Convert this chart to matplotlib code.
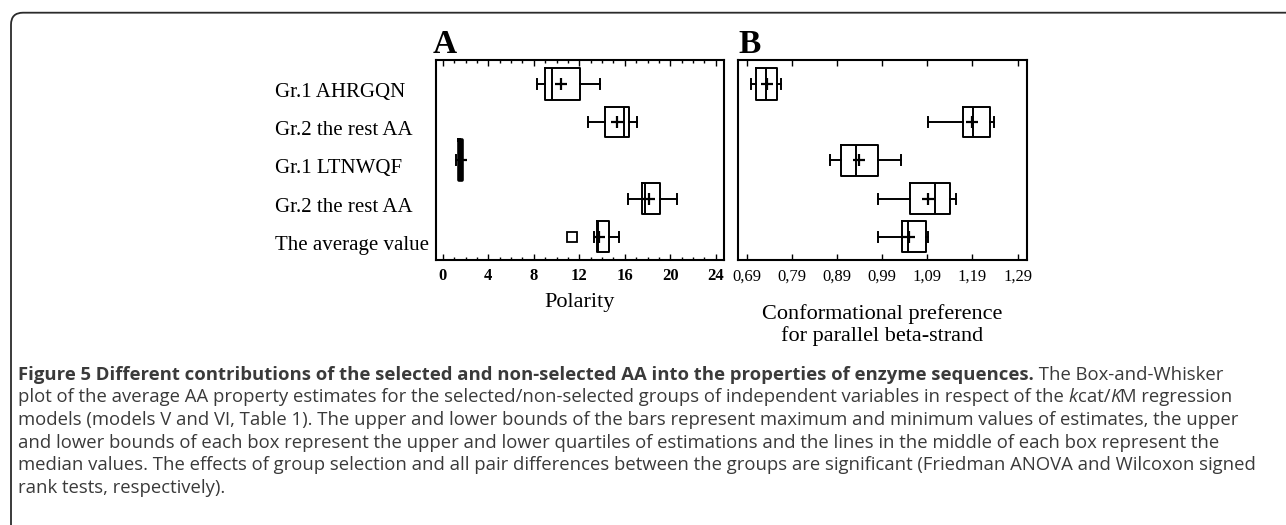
import numpy as np
import matplotlib.pyplot as plt
from matplotlib.patches import FancyBboxPatch
from matplotlib.transforms import ScaledTranslation
from matplotlib.ticker import MultipleLocator

# ── Datos ─────────────────────────────────────────────────────────────────────
groups = ['Gr.1 AHRGQN', 'Gr.2 the rest AA', 'Gr.1 LTNWQF',
          'Gr.2 the rest AA', 'The average value']

# Panel A: Polarity
pol_whislo = [8.3, 12.75, 1.18, 16.3, 13.3]
pol_q1     = [9.0, 14.25, 1.45, 17.5, 13.55]
pol_med    = [9.6, 15.95, 1.60, 17.75, 13.6]
pol_q3     = [12.1, 16.4, 1.72, 19.1, 14.65]
pol_whishi = [13.8, 17.05, 1.72, 20.55, 15.45]
pol_mean   = [10.4, 15.35, 1.60, 18.1, 13.7]
pol_fliers = [[], [], [], [], [11.4]]

# Panel B: conformational preference for parallel beta-strand
conf_whislo = [0.698, 1.091, 0.875, 0.981, 0.981]
conf_q1     = [0.709, 1.169, 0.898, 1.052, 1.034]
conf_med    = [0.733, 1.191, 0.932, 1.108, 1.046]
conf_q3     = [0.757, 1.229, 0.981, 1.140, 1.087]
conf_whishi = [0.765, 1.237, 1.032, 1.153, 1.091]
conf_mean   = [0.735, 1.190, 0.938, 1.091, 1.049]

pol_ticks = [0, 4, 8, 12, 16, 20, 24]
pol_ticklabels = ['0', '4', '8', '12', '16', '20', '24']
conf_ticks = [0.69, 0.79, 0.89, 0.99, 1.09, 1.19, 1.29]
conf_ticklabels = ['0,69', '0,79', '0,89', '0,99', '1,09', '1,19', '1,29']

caption = [
    [('Figure 5 Different contributions of the selected and non-selected AA '
      'into the properties of enzyme sequences.', 'bold', 'normal'),
     (' The Box-and-Whisker', 'normal', 'normal')],
    [('plot of the average AA property estimates for the selected/non-selected '
      'groups of independent variables in respect of the ', 'normal', 'normal'),
     ('k', 'normal', 'italic'), ('cat/', 'normal', 'normal'),
     ('K', 'normal', 'italic'), ('M regression', 'normal', 'normal')],
    [('models (models V and VI, Table 1). The upper and lower bounds of the bars '
      'represent maximum and minimum values of estimates, the upper', 'normal', 'normal')],
    [('and lower bounds of each box represent the upper and lower quartiles of '
      'estimations and the lines in the middle of each box represent the', 'normal', 'normal')],
    [('median values. The effects of group selection and all pair differences '
      'between the groups are significant (Friedman ANOVA and Wilcoxon signed', 'normal', 'normal')],
    [('rank tests, respectively).', 'normal', 'normal')],
]

W, H = 1286, 525
SERIF = 'Liberation Serif'
fig = plt.figure(figsize=(W / 100, H / 100), dpi=100)

# marco redondeado (solo se ve la esquina superior izquierda)
frame = FancyBboxPatch((0.11, -1.0), 15.0, 5.123 + 1.0,
                       boxstyle='round,pad=0,rounding_size=0.12',
                       transform=fig.dpi_scale_trans, fill=False,
                       edgecolor='#2b2b2b', linewidth=1.3)
fig.add_artist(frame)


def make_stats(lo, q1, med, q3, hi, mean, fliers=None):
    out = []
    for i in range(len(lo)):
        out.append(dict(whislo=lo[i], q1=q1[i], med=med[i], q3=q3[i],
                        whishi=hi[i], mean=mean[i],
                        fliers=(fliers[i] if fliers else [])))
    return out


def px_axes(left, right, top, bottom):
    return fig.add_axes([left / W, 1 - bottom / H, (right - left) / W, (bottom - top) / H])


line = dict(color='black', linewidth=1.4)
positions = np.arange(1, len(groups) + 1)


def draw_panel(ax, stats, widths):
    res = ax.bxp(stats, positions=positions, widths=widths, capwidths=0.26,
                 orientation='horizontal', showmeans=True,
                 boxprops=line, whiskerprops=line, capprops=line,
                 medianprops=line,
                 meanprops=dict(marker='+', markersize=8, markeredgewidth=1.6,
                                markeredgecolor='black', markerfacecolor='black'),
                 flierprops=dict(marker='s', markersize=7, markerfacecolor='none',
                                 markeredgecolor='black', markeredgewidth=1.3))
    ax.set_ylim(5.61, 0.37)
    for s in ax.spines.values():
        s.set_linewidth(1.5)
    ax.tick_params(axis='x', which='both', direction='in', top=True, bottom=True,
                   width=1.0, pad=6)
    ax.tick_params(axis='x', which='major', length=4)
    ax.tick_params(axis='x', which='minor', length=2.2)
    return res


# ── Panel A ───────────────────────────────────────────────────────────────────
axA = px_axes(436, 724, 60, 260)
resA = draw_panel(axA, make_stats(pol_whislo, pol_q1, pol_med, pol_q3, pol_whishi,
                                  pol_mean, pol_fliers),
                  widths=[0.82, 0.80, 1.05, 0.82, 0.80])
resA['boxes'][2].set_linewidth(2.6)
axA.set_xlim(-0.6, 24.72)
axA.set_xticks(pol_ticks, pol_ticklabels, fontfamily=SERIF, fontweight='bold', fontsize=12)
axA.xaxis.set_minor_locator(MultipleLocator(1))
axA.set_yticks(positions, groups, fontfamily=SERIF, fontsize=15)
axA.tick_params(axis='y', length=0, pad=161 * 0.72)
shift = ScaledTranslation(0, -0.06, fig.dpi_scale_trans)
for lab in axA.get_yticklabels():
    lab.set_horizontalalignment('left')
    lab.set_transform(lab.get_transform() + shift)
axA.set_xlabel('Polarity', fontfamily=SERIF, fontsize=16)
axA.xaxis.set_label_coords(0.5, -(303 - 260) / 200)
axA.xaxis.label.set_verticalalignment('center')

# ── Panel B ───────────────────────────────────────────────────────────────────
axB = px_axes(738, 1027, 60, 260)
draw_panel(axB, make_stats(conf_whislo, conf_q1, conf_med, conf_q3, conf_whishi,
                           conf_mean),
           widths=[0.82, 0.80, 0.80, 0.82, 0.80])
axB.set_xlim(0.67, 1.311)
axB.set_xticks(conf_ticks, conf_ticklabels, fontfamily=SERIF, fontsize=12)
axB.set_yticks([])
axB.set_xlabel('Conformational preference\nfor parallel beta-strand',
               fontfamily=SERIF, fontsize=16, linespacing=1.1)
axB.xaxis.set_label_coords(0.5, -(325 - 260) / 200)
axB.xaxis.label.set_verticalalignment('center')

# letras de panel
fig.text(433 / W, 1 - 53 / H, 'A', fontfamily=SERIF, fontweight='bold',
         fontsize=24, ha='left', va='baseline')
fig.text(738 / W, 1 - 53 / H, 'B', fontfamily=SERIF, fontweight='bold',
         fontsize=24, ha='left', va='baseline')

# ── Pie de figura ─────────────────────────────────────────────────────────────
renderer = fig.canvas.get_renderer()
cap_size = 13.3
line_y = [375, 397.5, 420, 443, 465.5, 488]
for pieces, y in zip(caption, line_y):
    x = 18
    for txt, weight, style in pieces:
        t = fig.text(x / W, 1 - y / H, txt, fontfamily='Open Sans', fontsize=cap_size,
                     fontweight=weight, fontstyle=style, color='#3a3a3a',
                     ha='left', va='center')
        bb = t.get_window_extent(renderer)
        x = bb.x1

fig.savefig('out.png', dpi=100)
